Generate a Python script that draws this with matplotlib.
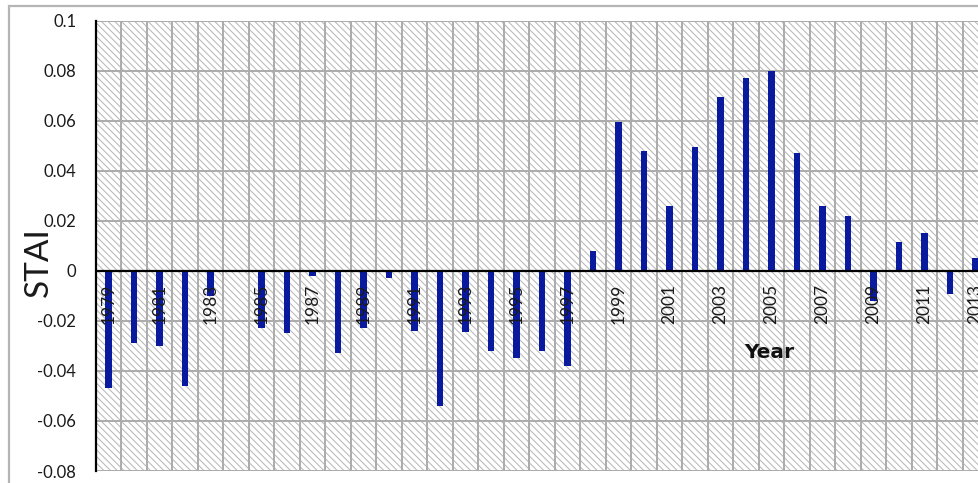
import matplotlib.pyplot as plt
import matplotlib.transforms as mtransforms
from matplotlib.patches import Rectangle
import numpy as np

years = list(range(1979, 2014))
stai = [
    -0.047, -0.029, -0.030, -0.046, -0.010, 0.0, -0.023, -0.025, -0.002, -0.033,
    -0.023, -0.003, -0.024, -0.054, -0.0245, -0.032, -0.035, -0.032, -0.038, 0.008,
    0.0595, 0.048, 0.026, 0.0495, 0.0695, 0.077, 0.080, 0.047, 0.026, 0.022,
    -0.012, 0.0117, 0.015, -0.0093, 0.005,
]
labelled_years = years[::2]

plt.rcParams["font.family"] = ["Lato", "DejaVu Sans"]
plt.rcParams["hatch.linewidth"] = 0.75
plt.rcParams["hatch.color"] = "#b9b9b9"

W, H = 979, 483
fig = plt.figure(figsize=(W / 100, H / 100), dpi=100)

# outer chart frame (runs off the right and bottom edges)
fig.patches.append(Rectangle((9 / W, -0.1), 1.2, 1 - 5.7 / H + 0.1,
                             transform=fig.transFigure, facecolor="none",
                             edgecolor="#b5b5b5", lw=1.6, zorder=0))

left, bottom, top = 95.7 / W, 1 - 471 / H, 1 - 20.7 / H
width = 25.5 * len(years) / W
ax = fig.add_axes([left, bottom, width, top - bottom])

x = np.arange(len(years))

# hatched plot area
ax.add_patch(Rectangle((0, 0), 1, 1, transform=ax.transAxes, facecolor="white",
                       edgecolor="#b9b9b9", hatch="\\\\\\\\\\", lw=0, zorder=0))

ax.bar(x, stai, width=0.25, color="#0a1a9e", zorder=3)
ax.axhline(0, color="black", lw=1.6, zorder=4)

ax.set_xlim(-0.5, len(years) - 0.5)
ax.set_ylim(-0.08, 0.1)
ax.set_yticks(np.arange(-0.08, 0.101, 0.02))
ax.set_yticklabels(["-0.08", "-0.06", "-0.04", "-0.02", "0",
                    "0.02", "0.04", "0.06", "0.08", "0.1"])
ax.set_xticks(x - 0.5, minor=True)
ax.set_xticks([])
ax.grid(True, which="minor", axis="x", color="#ababab", lw=1.4, zorder=1)
ax.grid(True, which="major", axis="y", color="#ababab", lw=1.4, zorder=1)
ax.set_axisbelow(True)
ax.tick_params(axis="y", length=0, pad=14, labelsize=12, labelcolor="#1a1a1a")
ax.tick_params(axis="x", which="both", length=0)

for s in ["top", "right", "bottom"]:
    ax.spines[s].set_visible(False)
ax.spines["left"].set_color("black")
ax.spines["left"].set_linewidth(1.6)
ax.spines["left"].set_zorder(5)

# year labels sit just under the zero line
lab_tr = mtransforms.offset_copy(ax.transData, fig=fig, x=0, y=-13, units="dots")
for yr in labelled_years:
    ax.text(years.index(yr), 0, str(yr), rotation=90, ha="center", va="top",
            fontsize=12.5, color="#1a1a1a", transform=lab_tr, zorder=6)

fig.text(39 / W, 1 - 262.5 / H, "STAI", rotation=90, ha="center", va="center",
         fontsize=24, color="#1a1a1a")
fig.text(769.5 / W, 1 - 352.5 / H, "Year", ha="center", va="center",
         fontsize=14.5, fontweight="bold", family="DejaVu Sans", color="#111111")

fig.savefig("out.png", dpi=100)
